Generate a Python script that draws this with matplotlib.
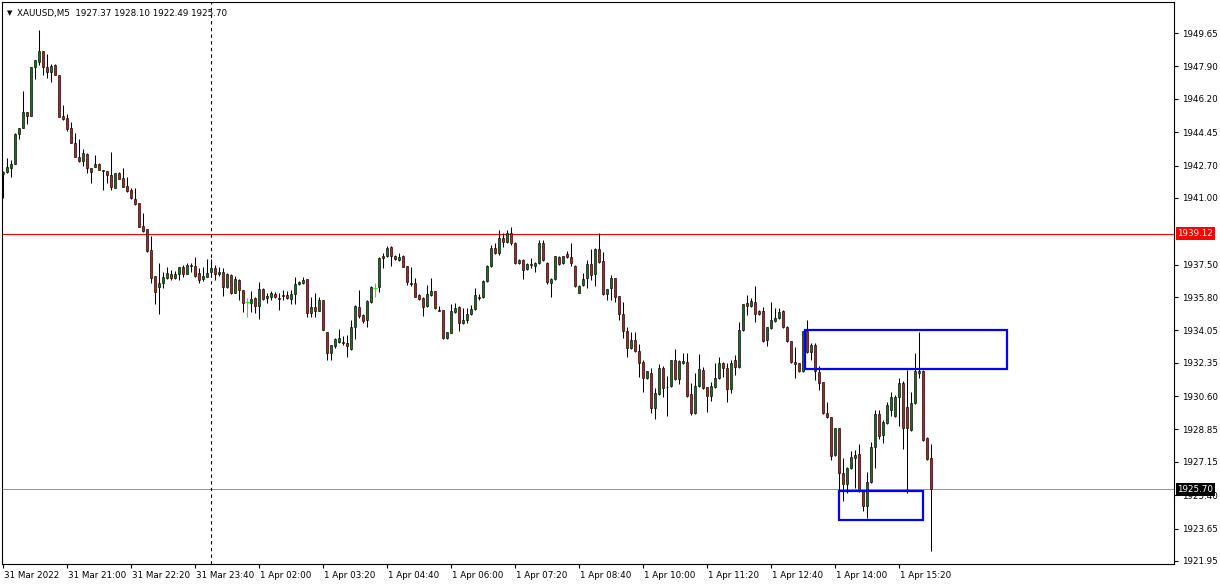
import matplotlib
matplotlib.use("Agg")
import matplotlib.pyplot as plt
import matplotlib.transforms as mtransforms
from matplotlib.patches import Rectangle
import numpy as np

# XAUUSD M5 candles
opens = [1942.25, 1942.36, 1942.57, 1942.78, 1944.35, 1944.66, 1945.50, 1945.29, 1947.86, 1948.13,
         1948.70, 1947.86, 1947.60, 1947.97, 1947.45, 1945.29, 1945.19, 1944.66, 1943.88, 1943.15,
         1942.94, 1943.30, 1942.57, 1942.62, 1942.78, 1942.46, 1942.41, 1942.20, 1941.52, 1942.30,
         1942.04, 1941.62, 1941.41, 1940.94, 1940.73, 1939.52, 1939.36, 1938.26, 1936.90, 1936.32,
         1936.53, 1936.79, 1937.00, 1936.79, 1937.00, 1937.37, 1937.00, 1937.48, 1937.42, 1937.06,
         1936.74, 1936.85, 1937.11, 1937.32, 1937.00, 1937.11, 1936.32, 1936.95, 1936.01, 1936.69,
         1936.16, 1935.53, 1935.48, 1935.74, 1935.32, 1936.22, 1935.74, 1935.80, 1935.95, 1935.74,
         1935.90, 1935.90, 1935.69, 1935.95, 1936.48, 1936.53, 1936.74, 1934.96, 1935.27, 1935.06,
         1935.64, 1933.96, 1932.86, 1933.23, 1933.44, 1933.44, 1933.38, 1933.07, 1934.22, 1935.27,
         1934.85, 1934.59, 1935.53, 1936.27, 1936.32, 1937.84, 1937.95, 1938.42, 1937.95, 1937.74,
         1937.95, 1937.42, 1936.53, 1936.53, 1935.90, 1935.74, 1935.32, 1935.90, 1936.11, 1935.11,
         1935.11, 1933.65, 1933.91, 1935.01, 1935.27, 1934.43, 1934.59, 1934.90, 1935.17, 1935.80,
         1935.80, 1936.64, 1937.42, 1938.37, 1938.11, 1938.89, 1938.68, 1939.15, 1938.63, 1937.58,
         1937.74, 1937.27, 1937.53, 1937.42, 1937.58, 1938.63, 1937.58, 1936.53, 1936.74, 1937.90,
         1937.58, 1938.05, 1937.90, 1937.42, 1936.01, 1936.43, 1936.79, 1937.53, 1937.00, 1938.32,
         1937.68, 1935.95, 1936.27, 1936.79, 1935.85, 1934.90, 1934.01, 1933.12, 1933.54, 1932.96,
         1932.38, 1931.54, 1931.81, 1929.97, 1930.71, 1932.07, 1931.07, 1931.13, 1932.49, 1931.49,
         1932.33, 1932.38, 1930.71, 1929.71, 1931.13, 1931.96, 1931.07, 1930.60, 1931.07, 1931.55,
         1932.33, 1932.07, 1930.97, 1932.49, 1932.12, 1934.06, 1935.48, 1935.32, 1935.53, 1935.06,
         1935.06, 1933.54, 1934.17, 1934.54, 1934.70, 1935.06, 1934.22, 1933.49, 1932.38, 1932.33,
         1931.91, 1934.01, 1932.91, 1933.28, 1931.86, 1931.34, 1929.71, 1929.50, 1927.51, 1928.92,
         1926.56, 1925.98, 1926.82, 1927.35, 1927.56, 1925.62, 1924.83, 1926.09, 1927.93, 1929.66,
         1928.55, 1929.18, 1929.87, 1929.55, 1930.55, 1931.28, 1930.03, 1928.82, 1930.23, 1931.81,
         1931.91, 1928.40, 1927.37]
highs = [1942.41, 1943.09, 1942.99, 1944.40, 1944.66, 1946.60, 1945.50, 1947.86, 1948.23, 1949.81,
         1948.70, 1948.55, 1948.02, 1948.02, 1947.45, 1945.87, 1945.40, 1944.98, 1944.40, 1944.09,
         1943.56, 1943.35, 1942.57, 1943.25, 1942.83, 1942.46, 1942.41, 1943.40, 1942.30, 1942.36,
         1942.57, 1942.09, 1941.52, 1941.52, 1940.73, 1940.20, 1939.36, 1939.00, 1936.90, 1937.58,
         1937.11, 1937.37, 1937.21, 1937.16, 1937.37, 1937.48, 1937.58, 1937.58, 1937.90, 1937.32,
         1937.37, 1937.79, 1937.79, 1937.48, 1937.37, 1937.32, 1937.06, 1937.00, 1936.90, 1936.74,
         1936.16, 1935.74, 1936.11, 1935.80, 1936.58, 1936.27, 1936.01, 1936.11, 1936.06, 1936.01,
         1936.16, 1936.11, 1936.16, 1936.85, 1936.64, 1936.85, 1936.74, 1935.80, 1936.01, 1935.80,
         1935.64, 1933.96, 1933.28, 1933.65, 1934.12, 1933.75, 1933.80, 1934.59, 1935.38, 1936.16,
         1934.90, 1935.64, 1936.37, 1936.53, 1937.90, 1938.11, 1938.47, 1938.47, 1938.00, 1938.11,
         1938.00, 1937.42, 1937.37, 1936.79, 1935.95, 1935.80, 1936.43, 1936.79, 1936.11, 1935.32,
         1935.11, 1933.96, 1935.43, 1935.48, 1935.32, 1935.22, 1935.22, 1935.38, 1936.27, 1935.95,
         1936.69, 1937.48, 1938.53, 1938.63, 1939.31, 1939.15, 1939.31, 1939.47, 1938.68, 1937.79,
         1937.79, 1937.58, 1937.84, 1937.63, 1938.79, 1938.79, 1937.63, 1936.79, 1937.95, 1937.95,
         1937.95, 1938.21, 1938.63, 1937.48, 1936.43, 1937.06, 1937.74, 1938.32, 1938.37, 1939.15,
         1938.16, 1936.22, 1936.95, 1936.79, 1935.85, 1935.53, 1934.22, 1933.96, 1933.96, 1933.33,
         1932.49, 1931.91, 1932.07, 1931.02, 1932.28, 1932.17, 1931.65, 1932.49, 1933.07, 1932.49,
         1932.86, 1932.86, 1931.28, 1931.81, 1932.80, 1932.12, 1931.07, 1931.34, 1932.33, 1932.65,
         1932.38, 1932.33, 1932.49, 1932.75, 1934.49, 1935.43, 1935.90, 1935.74, 1936.37, 1935.11,
         1935.27, 1934.22, 1935.53, 1935.22, 1935.22, 1935.11, 1934.27, 1933.49, 1933.17, 1932.33,
         1934.01, 1934.59, 1933.38, 1933.38, 1932.17, 1931.34, 1930.29, 1929.50, 1928.92, 1928.92,
         1927.35, 1926.88, 1927.72, 1927.77, 1928.08, 1925.67, 1926.61, 1928.19, 1929.87, 1929.87,
         1929.34, 1930.29, 1930.81, 1930.65, 1931.54, 1931.39, 1931.96, 1930.81, 1932.86, 1933.96,
         1931.96, 1928.45, 1928.10]
lows = [1940.99, 1942.30, 1942.09, 1942.78, 1944.09, 1944.66, 1944.87, 1945.29, 1947.24, 1947.97,
        1947.45, 1947.29, 1947.08, 1947.45, 1945.24, 1945.08, 1944.51, 1943.88, 1943.15, 1942.88,
        1942.67, 1942.30, 1941.78, 1942.62, 1942.46, 1941.41, 1941.78, 1941.41, 1941.52, 1941.99,
        1941.57, 1941.30, 1940.94, 1940.62, 1939.47, 1939.21, 1938.16, 1936.53, 1935.43, 1934.90,
        1936.27, 1936.74, 1936.69, 1936.74, 1936.69, 1936.85, 1937.00, 1937.11, 1936.85, 1936.53,
        1936.64, 1936.85, 1936.95, 1936.69, 1936.90, 1935.85, 1936.27, 1935.95, 1936.01, 1935.64,
        1935.01, 1934.75, 1935.01, 1934.96, 1934.64, 1935.64, 1935.48, 1935.64, 1935.74, 1935.11,
        1935.64, 1935.69, 1935.43, 1935.43, 1936.43, 1936.48, 1934.75, 1934.75, 1934.75, 1935.06,
        1934.07, 1932.49, 1932.49, 1933.12, 1933.38, 1933.28, 1932.65, 1933.02, 1933.59, 1934.70,
        1934.43, 1934.22, 1935.48, 1935.80, 1936.06, 1937.32, 1937.90, 1937.42, 1937.74, 1937.69,
        1937.37, 1936.43, 1936.37, 1935.80, 1935.64, 1934.80, 1935.27, 1935.85, 1935.17, 1935.06,
        1933.59, 1933.59, 1933.91, 1934.96, 1934.01, 1934.38, 1934.43, 1934.85, 1935.11, 1935.64,
        1935.74, 1936.58, 1937.37, 1938.05, 1938.00, 1938.42, 1938.63, 1938.53, 1937.53, 1937.53,
        1936.74, 1937.21, 1937.32, 1937.11, 1937.53, 1937.69, 1936.48, 1935.80, 1936.69, 1937.48,
        1937.53, 1937.84, 1937.42, 1936.32, 1936.01, 1936.37, 1936.27, 1936.69, 1936.37, 1937.58,
        1935.90, 1935.64, 1935.64, 1935.53, 1934.59, 1933.65, 1932.65, 1933.07, 1932.91, 1931.60,
        1930.81, 1931.49, 1929.71, 1929.39, 1930.66, 1930.55, 1929.55, 1931.07, 1931.44, 1931.23,
        1932.28, 1930.55, 1929.60, 1929.66, 1931.07, 1930.97, 1929.76, 1930.34, 1931.02, 1931.49,
        1931.60, 1930.29, 1930.76, 1931.70, 1932.07, 1934.01, 1934.85, 1935.27, 1934.49, 1934.85,
        1933.44, 1933.23, 1934.12, 1934.49, 1934.64, 1934.17, 1933.44, 1932.33, 1931.55, 1931.86,
        1931.86, 1932.86, 1932.49, 1931.44, 1930.92, 1929.66, 1929.45, 1927.24, 1927.45, 1925.56,
        1925.09, 1925.51, 1926.77, 1925.77, 1925.56, 1924.57, 1924.20, 1926.04, 1926.82, 1928.35,
        1928.14, 1929.13, 1929.55, 1929.50, 1929.03, 1927.82, 1925.51, 1928.76, 1930.18, 1931.55,
        1928.24, 1927.24, 1922.49]
closes = [1942.36, 1942.62, 1942.78, 1944.35, 1944.66, 1945.50, 1945.29, 1947.86, 1948.23, 1948.70,
          1947.86, 1947.60, 1947.92, 1947.45, 1945.24, 1945.14, 1944.61, 1943.88, 1943.15, 1942.94,
          1943.35, 1942.57, 1942.36, 1942.78, 1942.46, 1942.43, 1942.20, 1941.57, 1942.30, 1941.99,
          1941.57, 1941.36, 1940.99, 1940.68, 1939.47, 1939.26, 1938.21, 1936.79, 1936.06, 1936.53,
          1936.85, 1937.06, 1936.79, 1937.00, 1937.37, 1937.00, 1937.48, 1937.42, 1936.90, 1936.69,
          1936.90, 1937.06, 1937.32, 1937.00, 1937.11, 1936.32, 1937.00, 1936.01, 1936.74, 1936.16,
          1935.48, 1935.53, 1935.69, 1935.32, 1936.22, 1935.69, 1935.85, 1936.01, 1935.80, 1935.71,
          1935.85, 1935.74, 1935.95, 1936.48, 1936.58, 1936.69, 1934.96, 1935.27, 1935.06, 1935.64,
          1934.07, 1932.86, 1933.28, 1933.59, 1933.65, 1933.38, 1933.23, 1934.22, 1935.32, 1934.80,
          1934.54, 1935.59, 1936.32, 1936.27, 1937.84, 1937.95, 1938.37, 1937.95, 1937.79, 1937.90,
          1937.37, 1936.58, 1936.48, 1935.80, 1935.69, 1935.27, 1935.95, 1936.11, 1935.22, 1935.08,
          1933.65, 1933.96, 1935.06, 1935.22, 1934.43, 1934.59, 1934.90, 1935.17, 1935.90, 1935.77,
          1936.64, 1937.42, 1938.37, 1938.11, 1938.89, 1938.68, 1939.15, 1938.63, 1937.58, 1937.74,
          1937.21, 1937.53, 1937.48, 1937.58, 1938.63, 1937.74, 1936.58, 1936.74, 1937.95, 1937.53,
          1937.95, 1937.90, 1937.58, 1936.37, 1936.37, 1936.74, 1937.53, 1936.95, 1938.32, 1937.63,
          1935.95, 1936.22, 1936.79, 1935.80, 1934.90, 1934.01, 1933.12, 1933.54, 1932.96, 1932.33,
          1931.54, 1931.91, 1929.97, 1930.76, 1932.07, 1931.02, 1931.10, 1932.49, 1931.49, 1932.44,
          1932.44, 1930.60, 1929.71, 1931.13, 1932.02, 1931.02, 1930.60, 1931.13, 1931.55, 1932.33,
          1932.07, 1930.97, 1932.33, 1932.12, 1934.06, 1935.43, 1935.32, 1935.59, 1934.90, 1934.90,
          1933.49, 1934.22, 1934.59, 1934.70, 1935.01, 1934.22, 1933.49, 1932.38, 1932.28, 1931.91,
          1934.01, 1932.91, 1933.28, 1931.91, 1931.28, 1929.71, 1929.50, 1927.45, 1928.92, 1926.56,
          1925.98, 1926.82, 1927.40, 1927.51, 1925.62, 1924.83, 1926.09, 1927.93, 1929.66, 1928.50,
          1929.24, 1930.13, 1930.55, 1930.55, 1931.28, 1928.92, 1928.92, 1930.23, 1931.91, 1931.91,
          1928.29, 1927.29, 1925.70]

time_labels = ["31 Mar 2022", "31 Mar 21:00", "31 Mar 22:20", "31 Mar 23:40", "1 Apr 02:00",
               "1 Apr 03:20", "1 Apr 04:40", "1 Apr 06:00", "1 Apr 07:20", "1 Apr 08:40",
               "1 Apr 10:00", "1 Apr 11:20", "1 Apr 12:40", "1 Apr 14:00", "1 Apr 15:20"]
price_ticks = [1949.65, 1947.90, 1946.20, 1944.45, 1942.70, 1941.00, 1937.50, 1935.80,
               1934.05, 1932.35, 1930.60, 1928.85, 1927.15, 1925.40, 1923.65, 1921.95]

symbol = "XAUUSD,M5"
level_line = 1939.12
bid_price = 1925.70
day_separator = 52

# drawn boxes: (first bar, last bar, low price, high price)
box_upper = (200.5, 251.0, 1932.02, 1934.06)
box_lower = (209.0, 230.0, 1924.10, 1925.62)


def main():
    fig = plt.figure(figsize=(12.2, 5.85), dpi=100)
    ax = fig.add_axes([2 / 1220, 21 / 585, 1172 / 1220, 562 / 585])
    font = "DejaVu Sans"
    fs = 6.3

    x = np.arange(len(opens))
    o = np.array(opens)
    c = np.array(closes)
    h = np.array(highs)
    lo = np.array(lows)

    doji = o == c
    ax.vlines(x[~doji], lo[~doji], h[~doji], color="black", linewidth=0.75, zorder=2)
    ax.vlines(x[doji], lo[doji], h[doji], color="#00ff00", linewidth=0.75, zorder=2)
    ax.hlines(c[doji], x[doji] - 0.4, x[doji] + 0.4, color="#00ff00", linewidth=0.75, zorder=3)

    up = c > o
    down = c < o
    ax.bar(x[up], c[up] - o[up], bottom=o[up], width=0.72, color="#008000",
           edgecolor="black", linewidth=0.45, zorder=3)
    ax.bar(x[down], o[down] - c[down], bottom=c[down], width=0.72, color="#ff0000",
           edgecolor="black", linewidth=0.45, zorder=3)

    # levels
    ax.axhline(level_line, color="#ff0000", linewidth=0.8, zorder=1)
    ax.axhline(bid_price, color="#909090", linewidth=0.7, zorder=1)
    ax.axvline(day_separator, color="black", linewidth=0.8, linestyle=(0, (3, 3)), zorder=1)

    for b in (box_upper, box_lower):
        ax.add_patch(Rectangle((b[0], b[2]), b[1] - b[0], b[3] - b[2], fill=False,
                               edgecolor="#0000ff", linewidth=1.6, zorder=4))

    ax.set_xlim(-0.25, 292.75)
    ax.set_ylim(1921.79, 1951.28)

    # right price axis
    ax.yaxis.tick_right()
    ax.set_yticks(price_ticks)
    ax.set_yticklabels([f"{p:.2f}" for p in price_ticks], fontsize=fs, family=font)
    ax.tick_params(axis="y", direction="out", length=3, width=0.8, pad=2.5, colors="black")

    # time axis, one label every 16 bars
    ax.set_xticks(np.arange(len(time_labels)) * 16)
    ax.set_xticklabels(time_labels, fontsize=fs, family=font, ha="left")
    ax.tick_params(axis="x", direction="out", length=3, width=0.8, pad=2)
    shift = mtransforms.ScaledTranslation(1 / 100, 0, fig.dpi_scale_trans)
    for lab in ax.get_xticklabels():
        lab.set_transform(lab.get_transform() + shift)

    for s in ax.spines.values():
        s.set_color("black")
        s.set_linewidth(0.8)

    # price tags on the axis
    tag = mtransforms.blended_transform_factory(ax.transAxes, ax.transData)
    ax.text(1.003, level_line, f"{level_line:.2f}", transform=tag, ha="left", va="center",
            fontsize=fs, family=font, color="white", clip_on=False, zorder=6,
            bbox=dict(boxstyle="square,pad=0.2", fc="#ff0000", ec="none"))
    ax.text(1.003, bid_price, f"{bid_price:.2f}", transform=tag, ha="left", va="center",
            fontsize=fs, family=font, color="white", clip_on=False, zorder=6,
            bbox=dict(boxstyle="square,pad=0.2", fc="black", ec="none"))

    # header line
    ax.text(0.004, 0.985, "\u25bc", transform=ax.transAxes, fontsize=5, family=font,
            va="top", ha="left")
    ax.text(0.013, 0.988, f"{symbol}  {opens[-1]:.2f} {highs[-1]:.2f} {lows[-1]:.2f} {closes[-1]:.2f}",
            transform=ax.transAxes, fontsize=fs, family=font, va="top", ha="left")

    fig.savefig("out.png", dpi=100, facecolor="white")


if __name__ == "__main__":
    main()
